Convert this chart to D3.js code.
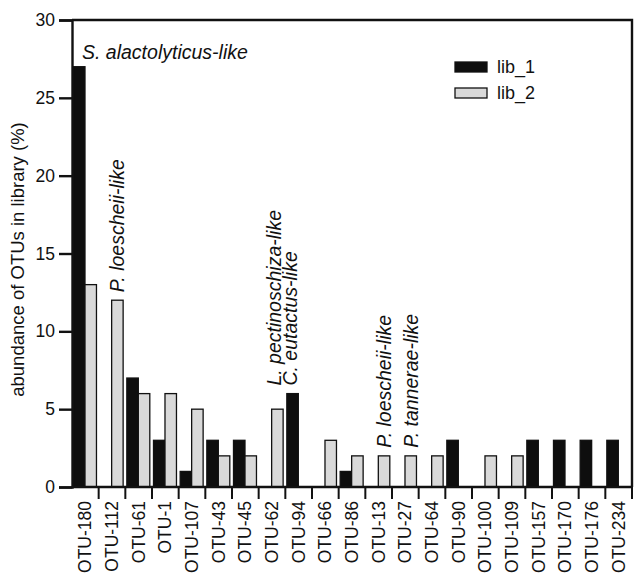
<!DOCTYPE html>
<html lang="en">
<head>
<meta charset="utf-8">
<title>OTU abundance</title>
<script src="https://cdn.jsdelivr.net/npm/d3@7"></script>
<style>
  body { margin: 0; background: #fff; }
  svg text { font-family: "Liberation Sans", Arial, Helvetica, sans-serif; fill: #111; }
  .axis path, .axis line { stroke: #111; stroke-width: 2.4; }
  .axis text { font-size: 17.5px; }
  .note { font-style: italic; font-size: 19.5px; }
</style>
</head>
<body>
<script>
// categories and values
var otus = ["OTU-180","OTU-112","OTU-61","OTU-1","OTU-107","OTU-43","OTU-45","OTU-62","OTU-94","OTU-66","OTU-86",
            "OTU-13","OTU-27","OTU-64","OTU-90","OTU-100","OTU-109","OTU-157","OTU-170","OTU-176","OTU-234"]
var lib1 = [27,0,7,3,1,3,3,0,6,0,1,0,0,0,3,0,0,3,3,3,3]
var lib2 = [13,12,6,6,5,2,2,5,0,3,2,2,2,2,0,2,2,0,0,0,0]
var series = ["lib_1","lib_2"]
var yTicks = [0,5,10,15,20,25,30]

// species notes, each attached to one or more OTUs
var notes = [
  {otu: ["OTU-180"], text: "S. alactolyticus-like", vertical: false},
  {otu: ["OTU-112"], text: "P. loescheii-like", vertical: true},
  {otu: ["OTU-62","OTU-94"], text: "L. pectinoschiza-like", vertical: true},
  {otu: ["OTU-62","OTU-94"], text: "C. eutactus-like", vertical: true},
  {otu: ["OTU-13"], text: "P. loescheii-like", vertical: true},
  {otu: ["OTU-27"], text: "P. tannerae-like", vertical: true}
]

var w = 634, h = 577
var mLeft = 72, mRight = 632, mTop = 20, mBottom = 487

var svg = d3.select("body").append("svg")
  .attr("width", w)
  .attr("height", h)

var x = d3.scaleBand().domain(otus).range([mLeft, mRight]).padding(0)
var bw = x.bandwidth()
var xIn = d3.scaleBand().domain(series).range([1.5, bw - 2.2]).padding(0)
var y = d3.scaleLinear().domain([0, 30]).range([mBottom, mTop])

var rows = otus.map(function(o, i){
  return {otu: o, lib_1: lib1[i], lib_2: lib2[i]}
})

// bars
var groups = svg.selectAll("g.otu")
  .data(rows)
  .enter()
  .append("g")
  .attr("class", "otu")
  .attr("transform", function(d){ return "translate(" + x(d.otu) + ",0)" })

groups.selectAll("rect")
  .data(function(d){ return series.map(function(s){ return {s: s, v: d[s]} }).filter(function(e){ return e.v > 0 }) })
  .enter()
  .append("rect")
  .attr("x", function(d){ return xIn(d.s) })
  .attr("y", function(d){ return y(d.v) })
  .attr("width", xIn.bandwidth())
  .attr("height", function(d){ return y(0) - y(d.v) })
  .attr("fill", function(d){ return d.s == "lib_1" ? "#0e0e0e" : "#d9d9d9" })
  .attr("stroke", "#111")
  .attr("stroke-width", 1.3)

// y axis
var yAxis = d3.axisLeft(y).tickValues(yTicks).tickSize(13).tickPadding(4)
svg.append("g")
  .attr("class", "axis")
  .attr("transform", "translate(" + mLeft + ",0)")
  .call(yAxis)

// frame: top and right
svg.append("path")
  .attr("d", "M" + mLeft + "," + mTop + "H" + mRight + "V" + mBottom)
  .attr("fill", "none")
  .attr("stroke", "#111")
  .attr("stroke-width", 2.4)

// x axis line with ticks between categories
svg.append("line")
  .attr("x1", mLeft).attr("x2", mRight)
  .attr("y1", mBottom).attr("y2", mBottom)
  .attr("stroke", "#111").attr("stroke-width", 2.4)

svg.selectAll("line.sep")
  .data(otus)
  .enter()
  .append("line")
  .attr("class", "sep")
  .attr("x1", function(d){ return x(d) + bw })
  .attr("x2", function(d){ return x(d) + bw })
  .attr("y1", mBottom)
  .attr("y2", mBottom + 12)
  .attr("stroke", "#111")
  .attr("stroke-width", 2)

svg.selectAll("text.cat")
  .data(otus)
  .enter()
  .append("text")
  .attr("class", "cat")
  .attr("transform", function(d){ return "translate(" + (x(d) + bw / 2) + "," + (mBottom + 14) + ") rotate(-90)" })
  .attr("text-anchor", "end")
  .attr("dy", "0.35em")
  .style("font-size", "17.5px")
  .text(function(d){ return d })

// y label
svg.append("text")
  .attr("transform", "translate(24," + ((mTop + mBottom) / 2 + 6) + ") rotate(-90)")
  .attr("text-anchor", "middle")
  .style("font-size", "18.5px")
  .text("abundance of OTUs in library (%)")

// legend
var legend = svg.append("g").attr("transform", "translate(455,62)")
series.forEach(function(s, i){
  legend.append("rect")
    .attr("x", 0).attr("y", i * 26)
    .attr("width", 32).attr("height", 10)
    .attr("fill", s == "lib_1" ? "#0e0e0e" : "#d9d9d9")
    .attr("stroke", "#111").attr("stroke-width", 1.3)
  legend.append("text")
    .attr("x", 42).attr("y", i * 26 + 5)
    .attr("dy", "0.35em")
    .style("font-size", "18px")
    .text(s)
})

// species notes
var nudge = {"C. eutactus-like": 16}
notes.forEach(function(n){
  var maxV = d3.max(n.otu, function(o){ var i = otus.indexOf(o); return Math.max(lib1[i], lib2[i]) })
  var baseY = y(maxV) - 8
  if (!n.vertical) {
    svg.append("text").attr("class", "note")
      .attr("x", x(n.otu[0]) + 10)
      .attr("y", baseY)
      .text(n.text)
  } else {
    var bx = x(n.otu[0]) + bw - 1
    if (n.otu.length > 1) bx = x(n.otu[0]) + bw - 4.5 + (nudge[n.text] || 0)
    svg.append("text").attr("class", "note")
      .attr("transform", "translate(" + bx + "," + baseY + ") rotate(-90)")
      .text(n.text)
  }
})
</script>
</body>
</html>
